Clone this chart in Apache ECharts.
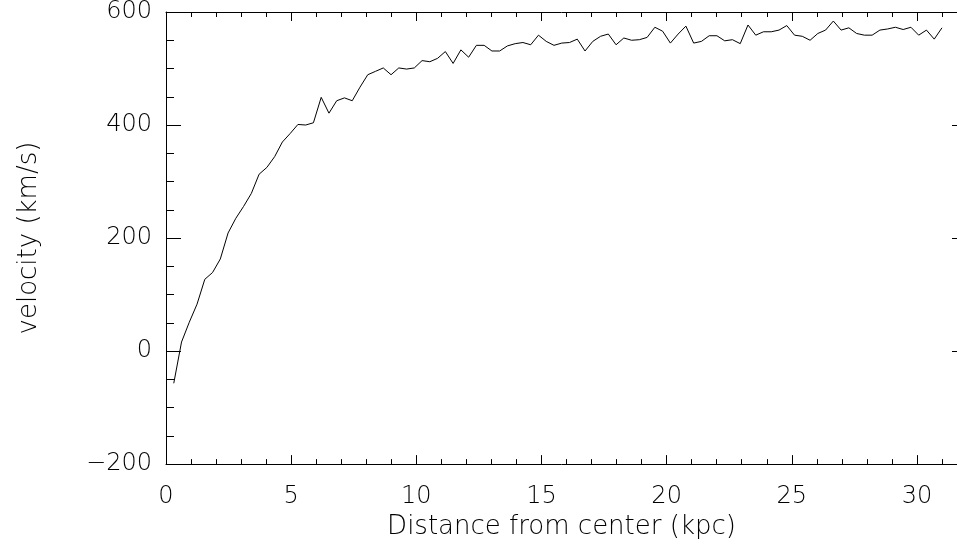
<!DOCTYPE html>
<html>
<head>
<meta charset="utf-8">
<script src="https://cdn.jsdelivr.net/npm/echarts@6/dist/echarts.min.js"></script>
<style>
  html, body { margin: 0; padding: 0; background: #fff; }
  #chart { width: 957px; height: 545px; }
</style>
</head>
<body>
<div id="chart"></div>
<script>
// distance from center (kpc), one point every 0.31 kpc
var distance = [
  0.31, 0.62, 0.93, 1.24, 1.55, 1.86, 2.17, 2.48, 2.79, 3.10,
  3.41, 3.72, 4.03, 4.34, 4.65, 4.96, 5.27, 5.58, 5.89, 6.20,
  6.51, 6.82, 7.13, 7.44, 7.75, 8.06, 8.37, 8.68, 8.99, 9.30,
  9.61, 9.92, 10.23, 10.54, 10.85, 11.16, 11.47, 11.78, 12.09, 12.40,
  12.71, 13.02, 13.33, 13.64, 13.95, 14.26, 14.57, 14.88, 15.19, 15.50,
  15.81, 16.12, 16.43, 16.74, 17.05, 17.36, 17.67, 17.98, 18.29, 18.60,
  18.91, 19.22, 19.53, 19.84, 20.15, 20.46, 20.77, 21.08, 21.39, 21.70,
  22.01, 22.32, 22.63, 22.94, 23.25, 23.56, 23.87, 24.18, 24.49, 24.80,
  25.11, 25.42, 25.73, 26.04, 26.35, 26.66, 26.97, 27.28, 27.59, 27.90,
  28.21, 28.52, 28.83, 29.14, 29.45, 29.76, 30.07, 30.38, 30.69, 31.00
];

// velocity (km/s)
var velocity = [
  -57, 16, 51, 83, 127, 139, 163, 209, 235, 256,
  279, 313, 325, 344, 370, 385, 401, 400, 404, 449,
  421, 443, 448, 443, 467, 489, 495, 501, 489, 501,
  499, 501, 514, 512, 518, 530, 509, 533, 520, 541,
  541, 531, 531, 540, 544, 546, 542, 559, 548, 541,
  545, 546, 552, 531, 548, 557, 561, 542, 554, 550,
  551, 555, 573, 566, 545, 561, 575, 545, 548, 558,
  558, 549, 551, 544, 577, 559, 565, 565, 568, 576,
  559, 557, 550, 562, 568, 584, 568, 572, 562, 559,
  559, 568, 570, 573, 569, 573, 559, 568, 552, 572
];

var xTicks = [0, 5, 10, 15, 20, 25, 30];
var yTicks = [-200, 0, 200, 400, 600];

var textFont = 'DejaVu Sans';
var ink = '#000';

var chart = echarts.init(document.getElementById('chart'), null, { renderer: 'canvas' });

var points = distance.map(function (d, i) { return [d, velocity[i]]; });

function xAxisBase(pos, labels) {
  return {
    type: 'value',
    position: pos,
    min: 0,
    max: 31.6,
    interval: 5,
    axisLine: { show: true, onZero: false, lineStyle: { color: ink, width: 1 } },
    axisTick: { show: true, inside: true, length: 9, lineStyle: { color: ink, width: 1 } },
    minorTick: { show: true, splitNumber: 5, length: 5, lineStyle: { color: ink, width: 1 } },
    splitLine: { show: false },
    axisLabel: {
      show: labels,
      showMaxLabel: false,
      margin: 21,
      fontFamily: textFont,
      fontWeight: 200,
      fontSize: 24,
      color: ink,
      formatter: function (v) { return xTicks.indexOf(v) >= 0 ? String(v) : ''; }
    }
  };
}

function yAxisBase(pos, labels) {
  return {
    type: 'value',
    position: pos,
    min: -200,
    max: 600,
    interval: 200,
    axisLine: { show: true, onZero: false, lineStyle: { color: ink, width: 1 } },
    axisTick: { show: true, inside: true, length: 15, lineStyle: { color: ink, width: 1 } },
    minorTick: { show: true, splitNumber: 4, length: 8, lineStyle: { color: ink, width: 1 } },
    splitLine: { show: false },
    axisLabel: {
      show: labels,
      margin: 14,
      fontFamily: textFont,
      fontWeight: 200,
      fontSize: 24,
      color: ink,
      formatter: function (v) {
        return yTicks.indexOf(v) >= 0 ? String(v).replace('-', '\u2212') : '';
      }
    }
  };
}

var xBottom = xAxisBase('bottom', true);
xBottom.name = 'Distance from center (kpc)';
xBottom.nameLocation = 'middle';
xBottom.nameGap = 43;
xBottom.nameTextStyle = { fontFamily: textFont, fontWeight: 200, fontSize: 26, color: ink };

var yLeft = yAxisBase('left', true);
yLeft.name = 'velocity (km/s)';
yLeft.nameLocation = 'middle';
yLeft.nameGap = 124;
yLeft.nameTextStyle = { fontFamily: textFont, fontWeight: 200, fontSize: 26, color: ink };

// right frame sits just past the window edge, only the tips of its ticks show
var yRight = yAxisBase('right', false);
yRight.offset = 10;

var option = {
  animation: false,
  backgroundColor: '#fff',
  grid: { left: 166, right: 0, top: 12, bottom: 79, containLabel: false },
  xAxis: [xBottom, xAxisBase('top', false)],
  yAxis: [yLeft, yRight],
  series: [
    {
      type: 'line',
      xAxisIndex: 0,
      yAxisIndex: 0,
      data: points,
      showSymbol: false,
      lineStyle: { color: ink, width: 1 }
    }
  ]
};

chart.setOption(option);
</script>
</body>
</html>
